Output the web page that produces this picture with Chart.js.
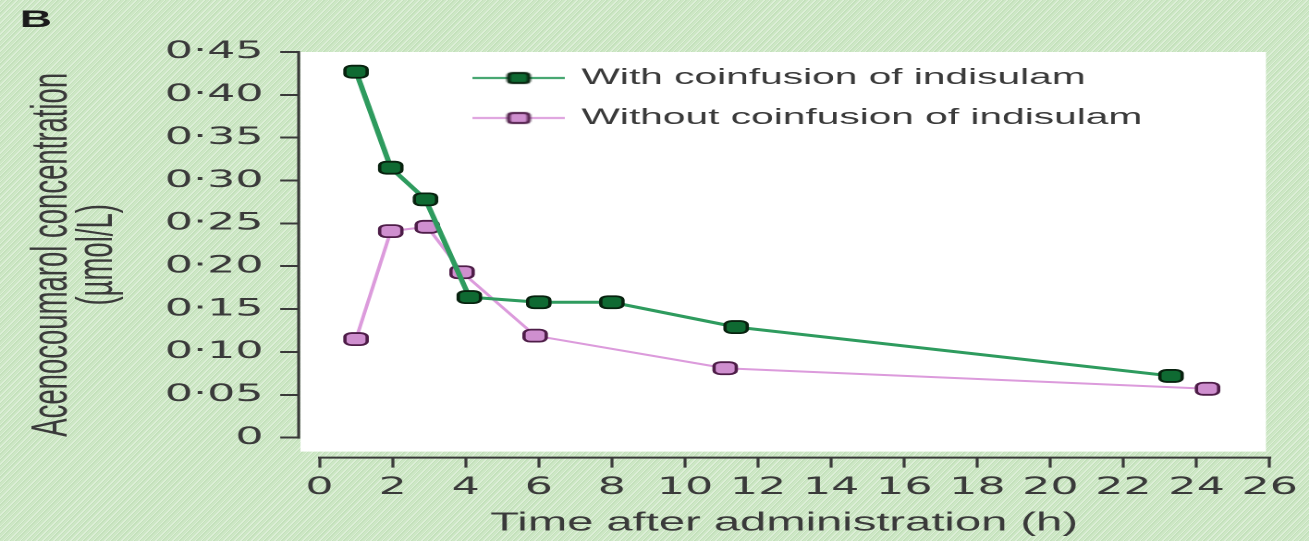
<!DOCTYPE html>
<html>
<head>
<meta charset="utf-8">
<title>Acenocoumarol concentration</title>
<script src="https://cdn.jsdelivr.net/npm/chart.js@4.4.1/dist/chart.umd.min.js"></script>
<style>
  html, body { margin: 0; padding: 0; }
  body {
    width: 1309px; height: 541px; overflow: hidden;
    background-color: #cde7c5;
    background-image: repeating-linear-gradient(135deg,
      rgba(255,255,255,0.30) 0px, rgba(255,255,255,0.30) 1px,
      rgba(150,195,140,0.16) 1px, rgba(150,195,140,0.16) 2px,
      rgba(0,0,0,0) 2px, rgba(0,0,0,0) 4px);
  }
  canvas { display: block; }
</style>
</head>
<body>
<!-- drawn at 708 px wide, shown at full page width (wide-set figure) -->
<canvas id="c" width="708" height="541" style="width:1309px;height:541px"></canvas>
<script>
// ---- data ----
const panelLabel = 'B';
const seriesNames = ['With coinfusion of indisulam', 'Without coinfusion of indisulam'];

// time after administration (h) and acenocoumarol concentration (µmol/L)
const withTime    = [1, 1.95, 2.9, 4.1, 6, 8, 11.4, 23.3];
const withConc    = [0.427, 0.315, 0.278, 0.164, 0.158, 0.158, 0.129, 0.072];
const withoutTime = [1, 1.95, 2.95, 3.9, 5.9, 11.1, 24.3];
const withoutConc = [0.115, 0.241, 0.246, 0.193, 0.119, 0.081, 0.057];

const xTicks = [0, 2, 4, 6, 8, 10, 12, 14, 16, 18, 20, 22, 24, 26];
const xTickLabels = ['0', '2', '4', '6', '8', '10', '12', '14', '16', '18', '20', '22', '24', '26'];
const yTicks = [0, 0.05, 0.10, 0.15, 0.20, 0.25, 0.30, 0.35, 0.40, 0.45];
const yTickLabels = ['0', '0·05', '0·10', '0·15', '0·20', '0·25', '0·30', '0·35', '0·40', '0·45'];

const xTitle = 'Time after administration (h)';
const yTitle = ['Acenocoumarol concentration', '(µmol/L)'];

// ---- styles ----
const ink = '#3a3a3a';
const greenLine = '#2e9b5e', greenFill = '#0f6a32', greenEdge = '#08220f';
const pinkLine = '#dc9bdc', pinkFill = '#cf8fcf', pinkEdge = '#4e1d48';

function roundRect(g, x, y, w, h, r) {
  g.beginPath();
  g.moveTo(x + r, y);
  g.lineTo(x + w - r, y); g.quadraticCurveTo(x + w, y, x + w, y + r);
  g.lineTo(x + w, y + h - r); g.quadraticCurveTo(x + w, y + h, x + w - r, y + h);
  g.lineTo(x + r, y + h); g.quadraticCurveTo(x, y + h, x, y + h - r);
  g.lineTo(x, y + r); g.quadraticCurveTo(x, y, x + r, y);
  g.closePath();
}

// legend key: short line with the series marker on it
function legendSwatch(line, lineW, fill, edge) {
  const c = document.createElement('canvas');
  c.width = 50; c.height = 16;
  const g = c.getContext('2d');
  g.strokeStyle = line; g.lineWidth = lineW;
  g.beginPath(); g.moveTo(0, 8); g.lineTo(50, 8); g.stroke();
  g.fillStyle = fill; g.strokeStyle = edge; g.lineWidth = 2;
  roundRect(g, 19.5, 3, 11, 10, 2.5);
  g.fill(); g.stroke();
  return c;
}
const swatches = [
  legendSwatch(greenLine, 2, greenFill, greenEdge),
  legendSwatch(pinkLine, 2, pinkFill, pinkEdge)
];

// white plotting panel, open axis lines and legend placement
const framePlugin = {
  id: 'frame',
  afterLayout(chart) {
    const lg = chart.legend;
    if (lg) {
      lg.left = chart.chartArea.left + 78;
      lg.top = chart.chartArea.top - 3;
    }
  },
  beforeDraw(chart) {
    const { ctx, chartArea: a } = chart;
    ctx.save();
    ctx.fillStyle = '#ffffff';
    ctx.fillRect(a.left + 1, a.top, a.right - a.left - 3, a.bottom - a.top - 6);
    ctx.restore();
  },
  beforeDatasetsDraw(chart) {
    const { ctx, chartArea: a, scales: { x, y } } = chart;
    ctx.save();
    ctx.strokeStyle = ink;
    ctx.lineWidth = 1.6;
    ctx.beginPath();
    ctx.moveTo(a.left, y.getPixelForValue(yTicks[yTicks.length - 1]) - 1);
    ctx.lineTo(a.left, y.getPixelForValue(yTicks[0]) + 1);
    ctx.stroke();
    ctx.lineWidth = 2;
    ctx.beginPath();
    ctx.moveTo(x.getPixelForValue(xTicks[0]) - 0.8, a.bottom);
    ctx.lineTo(x.getPixelForValue(xTicks[xTicks.length - 1]) + 0.8, a.bottom);
    ctx.stroke();
    ctx.restore();
  }
};

const toPoints = (xs, ys) => xs.map((t, i) => ({ x: t, y: ys[i] }));

new Chart(document.getElementById('c'), {
  type: 'line',
  data: {
    datasets: [
      {
        label: seriesNames[0],
        data: toPoints(withTime, withConc),
        borderColor: greenLine, borderWidth: 3,
        pointStyle: 'rectRounded', pointRadius: 7,
        pointBackgroundColor: greenFill, pointBorderColor: greenEdge, pointBorderWidth: 1.8,
        tension: 0, order: 1
      },
      {
        label: seriesNames[1],
        data: toPoints(withoutTime, withoutConc),
        borderColor: pinkLine, borderWidth: 2,
        pointStyle: 'rectRounded', pointRadius: 7,
        pointBackgroundColor: pinkFill, pointBorderColor: pinkEdge, pointBorderWidth: 1.8,
        tension: 0, order: 2
      }
    ]
  },
  options: {
    responsive: false,
    devicePixelRatio: 2,
    animation: false,
    events: [],
    layout: { padding: { left: 10.8, right: 20, top: 0, bottom: 0 } },
    plugins: {
      title: {
        display: true, text: panelLabel, align: 'start', color: '#1b1b1b',
        font: { family: 'Liberation Sans', size: 24, weight: 'bold' },
        padding: { top: 6, bottom: 17.2 }
      },
      legend: {
        position: 'chartArea', align: 'start',
        labels: {
          usePointStyle: true, pointStyleWidth: 46, padding: 18,
          color: ink, font: { family: 'Liberation Sans', size: 22 },
          generateLabels(chart) {
            const items = Chart.defaults.plugins.legend.labels.generateLabels(chart);
            return items.map((it, i) => Object.assign(it, { pointStyle: swatches[i] }));
          }
        }
      },
      tooltip: { enabled: false }
    },
    scales: {
      x: {
        type: 'linear', min: -0.57, max: 26, bounds: 'data',
        afterBuildTicks: (s) => { s.ticks = xTicks.map(v => ({ value: v })); },
        ticks: {
          autoSkip: false, maxRotation: 0, padding: 6, color: ink,
          font: { family: 'DejaVu Sans', size: 24 },
          callback: (v, i) => xTickLabels[i]
        },
        grid: { drawOnChartArea: false, drawTicks: true, tickLength: 10, tickWidth: 1.6, tickColor: ink },
        border: { display: false },
        title: {
          display: true, text: xTitle, color: ink,
          font: { family: 'Liberation Sans', size: 25.5 },
          padding: { top: 0, bottom: 2 }
        }
      },
      y: {
        type: 'linear', min: -0.0233, max: 0.45, bounds: 'data',
        afterBuildTicks: (s) => { s.ticks = yTicks.map(v => ({ value: v })); },
        ticks: {
          autoSkip: false, padding: 9, color: ink,
          font: { family: 'DejaVu Sans', size: 24 },
          callback: (v, i) => yTickLabels[i]
        },
        grid: { drawOnChartArea: false, drawTicks: true, tickLength: 10, tickWidth: 2, tickColor: ink },
        border: { display: false },
        title: {
          display: true, text: yTitle, color: ink,
          font: { family: 'Liberation Sans', size: 27.5, lineHeight: 0.9 },
          padding: { top: 5.2, bottom: 14.6 }
        }
      }
    }
  },
  plugins: [framePlugin]
});
</script>
</body>
</html>
